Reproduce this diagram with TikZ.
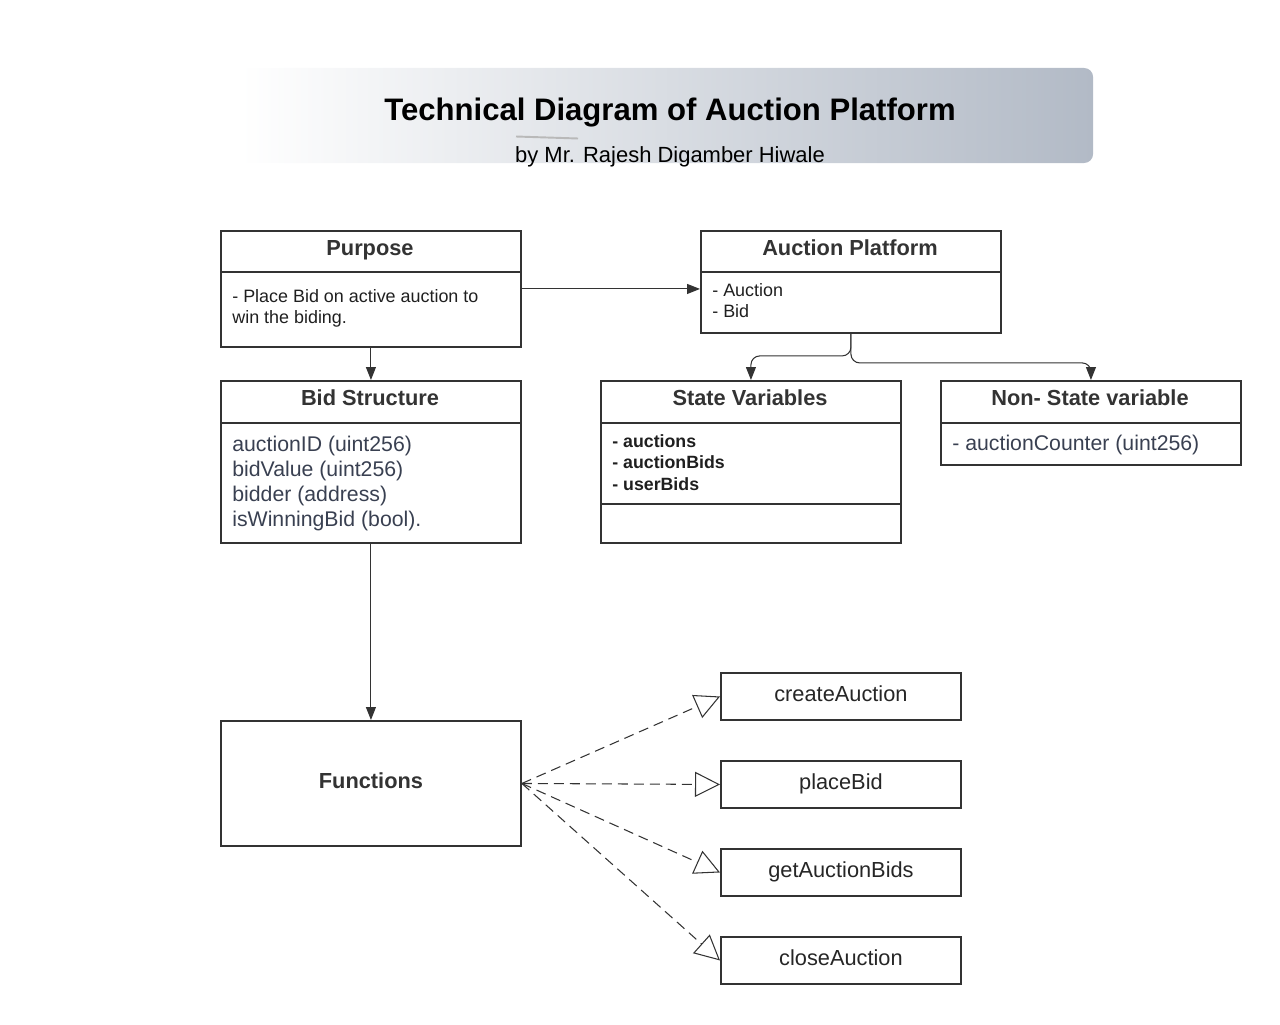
\documentclass[tikz,border=0pt]{standalone}
\usepackage{fontspec}
\setmainfont{Liberation Sans}
\usepackage{tikz}
\usetikzlibrary{arrows.meta}
\usetikzlibrary{calc,positioning}

\definecolor{boxline}{HTML}{333333}
\definecolor{bannergray}{HTML}{B2BAC6}
\definecolor{fieldtext}{HTML}{394051}

\tikzset{
	umlbox/.style={draw=boxline, line width=1.1pt, inner sep=0pt,
		minimum width=6cm, anchor=north west},
	smallbox/.style={draw=boxline, line width=1.1pt, inner sep=0pt,
		minimum width=4.8cm, minimum height=0.94cm, anchor=north west,
		font=\fontsize{12.4}{14}\selectfont, text=black!85, text depth=0.3em},
	divider/.style={draw=boxline, line width=1.1pt},
	head/.style={font=\bfseries\fontsize{12.4}{14}\selectfont, text=boxline, anchor=base},
	body/.style={font=\fontsize{10.2}{11.9}\selectfont, text=black!88,
		anchor=north west, align=left, inner sep=0pt},
	fields/.style={font=\fontsize{12.1}{14.2}\selectfont, text=fieldtext,
		anchor=north west, align=left, inner sep=0pt},
	conn/.style={draw=boxline, line width=0.6pt, -{Triangle[length=0.26cm,width=0.2cm]}},
	impl/.style={draw=boxline, line width=0.6pt, dash pattern=on 0.2cm off 0.12cm,
		-{Triangle[open,length=0.5cm,width=0.5cm]}}
}

\begin{document}
\begin{tikzpicture}[x=0.02cm, y=-0.02cm]
	\useasboundingbox (0,0) rectangle (1280,1024);
	
	% title banner
	\shade[left color=white, right color=bannergray, rounded corners=5pt] (240,68) rectangle (1093,163);
	\node[font=\bfseries\fontsize{17.7}{20}\selectfont, anchor=base] (title) at (670,120) {Technical Diagram of Auction Platform};
	\node[font=\fontsize{12.5}{14}\selectfont, anchor=base] (subtitle) at (670,162) {by Mr. Rajesh Digamber Hiwale};
	\draw[gray!55, line width=1.1pt] (516,136.5) -- (578,138.5);
	
	% class boxes
	\node[umlbox, minimum height=2.32cm] (purpose) at (220,230) {};
	\node[umlbox, minimum height=2.04cm] (platform) at (700,230) {};
	\node[umlbox, minimum height=3.24cm] (bidstruct) at (220,380) {};
	\node[umlbox, minimum height=3.24cm] (statevars) at (600,380) {};
	\node[umlbox, minimum height=1.68cm] (nonstate) at (940,380) {};
	\node[umlbox, minimum height=2.5cm, font=\bfseries\fontsize{12.4}{14}\selectfont, text=boxline, text depth=0.37em] (functions) at (220,720) {Functions};
	
	\foreach \b/\d in {purpose/42, platform/42, bidstruct/43, statevars/43, statevars/124, nonstate/43}
		\draw[divider] ($(\b.north west)+(0,\d)$) -- ($(\b.north east)+(0,\d)$);
	
	% headers
	\node[head] (purposehead) at (370,255) {Purpose};
	\node[head] (platformhead) at (850,255) {Auction Platform};
	\node[head] (bidhead) at (370,405) {Bid Structure};
	\node[head] (statehead) at (750,405) {State Variables};
	\node[head] (nonstatehead) at (1090,405) {Non- State variable};
	
	% contents
	\node[body] (purposebody) at (232,289) {- Place Bid on active auction to\\win the biding.};
	\node[body] (platformbody) at (712,283) {- Auction\\- Bid};
	\node[fields] (bidfields) at (232,436) {auctionID (uint256)\\bidValue (uint256)\\bidder (address)\\isWinningBid (bool).};
	\node[body, font=\bfseries\fontsize{10.1}{12.2}\selectfont] (statebody) at (612,434) {- auctions\\- auctionBids\\- userBids};
	\node[fields] (nonstatebody) at (952,435) {- auctionCounter (uint256)};
	
	% functions
	\foreach \fn/\y in {createAuction/672, placeBid/760, getAuctionBids/848, closeAuction/936}
		\node[smallbox] (\fn) at (720,\y) {\fn};
	
	% connectors
	\draw[conn] (purpose.east) -- (purpose.east -| platform.west);
	\draw[conn] (purpose.south) -- (bidstruct.north);
	\draw[conn] (bidstruct.south) -- (functions.north);
	\draw[conn, rounded corners=5pt] (platform.south) -- ++(0,22) -| (statevars.north);
	\draw[conn, rounded corners=5pt] (platform.south) -- ++(0,29) -| (nonstate.north);
	\foreach \fn in {createAuction, placeBid, getAuctionBids, closeAuction}
		\draw[impl] (functions.east) -- (\fn.west);
\end{tikzpicture}
\end{document}
